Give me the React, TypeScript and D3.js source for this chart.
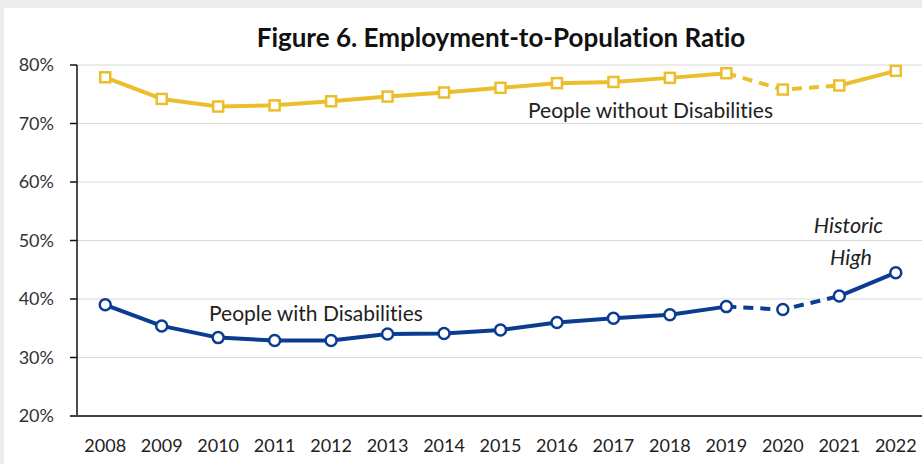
import React from "react";
import * as d3 from "d3";

const years = ["2008","2009","2010","2011","2012","2013","2014","2015","2016","2017","2018","2019","2020","2021","2022"];
const withoutDis = [77.9,74.2,72.9,73.1,73.8,74.6,75.3,76.1,76.9,77.1,77.8,78.6,75.8,76.5,79.0];
const withDis = [39.0,35.4,33.4,32.9,32.9,34.0,34.1,34.7,36.0,36.7,37.3,38.7,38.2,40.5,44.5];
const yTicks = [20,30,40,50,60,70,80];
const dashedYears = ["2019","2020","2021"];

const W = 922, H = 464;
const FONT = "Lato, 'Open Sans', sans-serif";
const YELLOW = "#EDBE2B";
const BLUE = "#0A3D91";
const noLig = { fontVariantLigatures: "none" as const, fontFeatureSettings: "'liga' 0, 'clig' 0" };

export default function App() {
  const x = d3.scalePoint<string>().domain(years).range([77, 924]).padding(0.5);
  const y = d3.scaleLinear().domain([20, 80]).range([416, 65]);

  const pts = (vals: number[]) => years.map((yr, i) => ({ yr, v: vals[i] }));
  const line = d3.line<{ yr: string; v: number }>().x(d => x(d.yr)!).y(d => y(d.v));
  const solidA = (vals: number[]) => pts(vals).filter(d => +d.yr <= 2019);
  const dashed = (vals: number[]) => pts(vals).filter(d => dashedYears.includes(d.yr));
  const solidB = (vals: number[]) => pts(vals).filter(d => +d.yr >= 2021);

  return (
    <svg width={W} height={H} style={{ position: "absolute", left: 0, top: 0, ...noLig }}>
      <rect x={0} y={0} width={W} height={H} fill="#ececec" />
      <rect x={4} y={8} width={W - 4} height={H - 8} fill="#ffffff" />
      <text x={501} y={47} textAnchor="middle" fontFamily={FONT} fontWeight={700} fontSize={26} fill="#111" style={noLig}>Figure 6. Employment-to-Population Ratio</text>
      {yTicks.map(t => (
        <g key={t}>
          {t > 20 && <line x1={77} x2={W} y1={y(t)} y2={y(t)} stroke="#d9d9d9" strokeWidth={1.2} />}
          <line x1={70} x2={77} y1={y(t)} y2={y(t)} stroke="#111" strokeWidth={1.5} />
          <text x={54} y={y(t) + 6} textAnchor="end" fontFamily={FONT} fontSize={18} fill="#333">{t}%</text>
        </g>
      ))}
      <line x1={77} x2={77} y1={y(80)} y2={y(20)} stroke="#111" strokeWidth={1.5} />
      <line x1={70} x2={W} y1={y(20)} y2={y(20)} stroke="#444" strokeWidth={2} />
      {years.map(yr => (
        <text key={yr} x={x(yr)} y={452} textAnchor="middle" fontFamily={FONT} fontSize={18} fill="#222">{yr}</text>
      ))}
      {[{ vals: withoutDis, c: YELLOW }, { vals: withDis, c: BLUE }].map((s, k) => (
        <g key={k}>
          <path d={line(solidA(s.vals))!} fill="none" stroke={s.c} strokeWidth={4} strokeLinejoin="round" />
          <path d={line(dashed(s.vals))!} fill="none" stroke={s.c} strokeWidth={4} strokeDasharray="10,7" />
          <path d={line(solidB(s.vals))!} fill="none" stroke={s.c} strokeWidth={4} strokeLinejoin="round" />
        </g>
      ))}
      {pts(withoutDis).map(d => (
        <rect key={d.yr} x={x(d.yr)! - 5} y={y(d.v) - 5} width={10} height={10} fill="#fff" stroke={YELLOW} strokeWidth={2.5} />
      ))}
      {pts(withDis).map(d => (
        <circle key={d.yr} cx={x(d.yr)!} cy={y(d.v)} r={5.5} fill="#fff" stroke={BLUE} strokeWidth={2.5} />
      ))}
      <text x={528} y={118} fontFamily={FONT} fontSize={21} fill="#222" style={noLig}>People without Disabilities</text>
      <text x={209} y={321} fontFamily={FONT} fontSize={21} fill="#222" style={noLig}>People with Disabilities</text>
      <text x={848.5} y={233} textAnchor="middle" fontFamily={FONT} fontStyle="italic" fontSize={21.5} fill="#222">Historic</text>
      <text x={851} y={265} textAnchor="middle" fontFamily={FONT} fontStyle="italic" fontSize={21.5} fill="#222">High</text>
    </svg>
  );
}
